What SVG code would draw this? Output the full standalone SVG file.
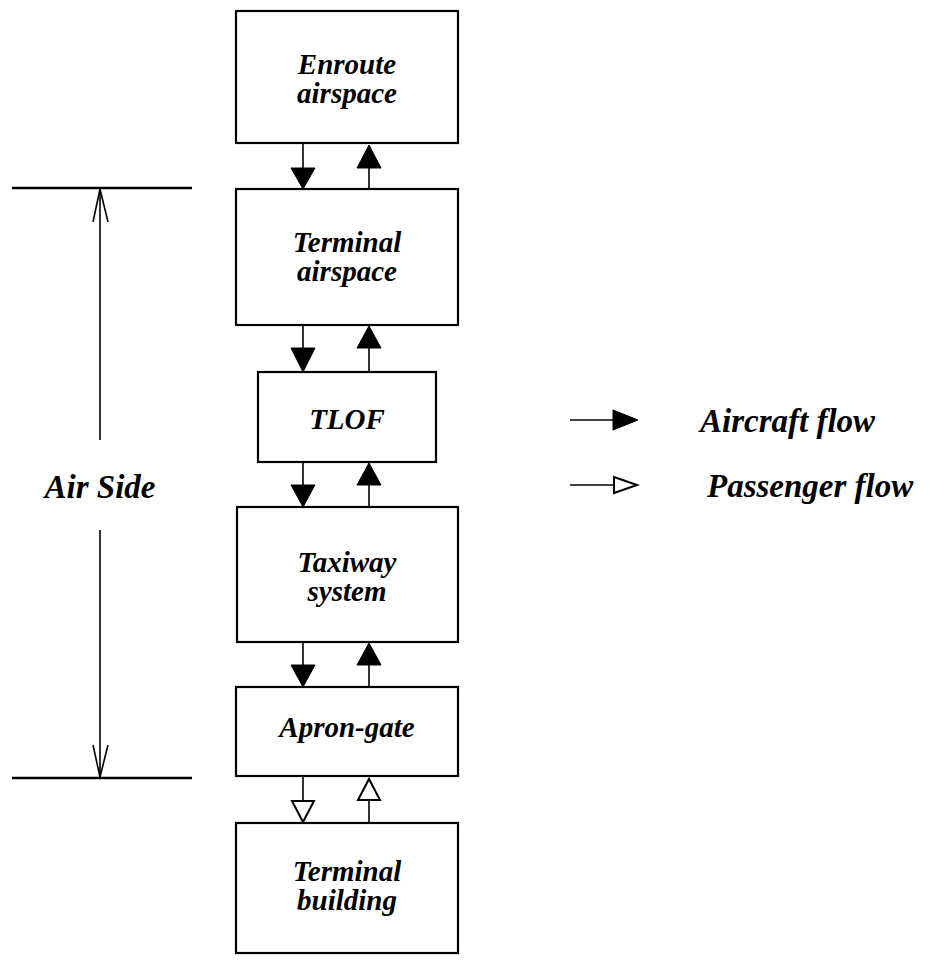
<svg xmlns="http://www.w3.org/2000/svg" width="932" height="961" viewBox="0 0 932 961">
<style>
.box{fill:#fff;stroke:#000;stroke-width:2.2}
.t{font-family:"Liberation Serif",serif;font-style:italic;font-weight:bold;font-size:29px;text-anchor:middle;fill:#000}
.lg{font-family:"Liberation Serif",serif;font-style:italic;font-weight:bold;font-size:33px;fill:#000}
.ln{stroke:#000;stroke-width:1.6;fill:none}
.fa{fill:#000;stroke:#000;stroke-width:1}
.oa{fill:#fff;stroke:#000;stroke-width:2}
</style>
<rect width="932" height="961" fill="#fff"/>
<g id="enroute"><rect class="box" x="236" y="11" width="222" height="132"/><text class="t" x="347" y="74">Enroute</text><text class="t" x="347" y="103">airspace</text></g>
<g id="terminal-airspace"><rect class="box" x="236" y="189" width="222" height="136"/><text class="t" x="347" y="252">Terminal</text><text class="t" x="347" y="281">airspace</text></g>
<g id="tlof"><rect class="box" x="258" y="372" width="178" height="90"/><text class="t" x="347" y="429">TLOF</text></g>
<g id="taxiway"><rect class="box" x="237" y="507" width="221" height="135"/><text class="t" x="347" y="572">Taxiway</text><text class="t" x="347" y="601">system</text></g>
<g id="apron"><rect class="box" x="236" y="687" width="222" height="89"/><text class="t" x="347" y="737">Apron-gate</text></g>
<g id="terminal-building"><rect class="box" x="236" y="823" width="222" height="130"/><text class="t" x="347" y="881">Terminal</text><text class="t" x="347" y="910">building</text></g>
<g id="connectors">
<path class="ln" d="M303 143V170M369 189V166"/>
<polygon class="fa" points="291,168 315,168 303,189"/><polygon class="fa" points="369,145 357,168 381,168"/>
<path class="ln" d="M303 325V350M369 372V346"/>
<polygon class="fa" points="291,348 315,348 303,372"/><polygon class="fa" points="369,326 357,348 381,348"/>
<path class="ln" d="M303 462V487M369 507V483"/>
<polygon class="fa" points="291,485 315,485 303,507"/><polygon class="fa" points="369,463 357,485 381,485"/>
<path class="ln" d="M303 642V667M369 687V663"/>
<polygon class="fa" points="291,665 315,665 303,687"/><polygon class="fa" points="369,643 357,665 381,665"/>
<path class="ln" d="M303 776V800M369 823V800"/>
<polygon class="oa" points="292,801 314,801 303,822"/><polygon class="oa" points="369,779 358,800 380,800"/>
</g>
<g id="air-side">
<path d="M12 188H192M12 778H192" stroke="#000" stroke-width="2.5"/>
<path class="ln" d="M100 188V440M100 530V778"/>
<path class="ln" stroke-width="2" d="M93 222L100 189L108 222M93 745L100 777L108 745"/>
<text class="lg" x="100" y="498" text-anchor="middle">Air Side</text>
</g>
<g id="legend">
<path class="ln" d="M570 420H616M570 485H616"/>
<polygon class="fa" points="613,410 638,420 613,430"/>
<polygon class="oa" points="614,477 637,485 614,493"/>
<text class="lg" x="700" y="432">Aircraft flow</text>
<text class="lg" x="707" y="497">Passenger flow</text>
</g>
</svg>
